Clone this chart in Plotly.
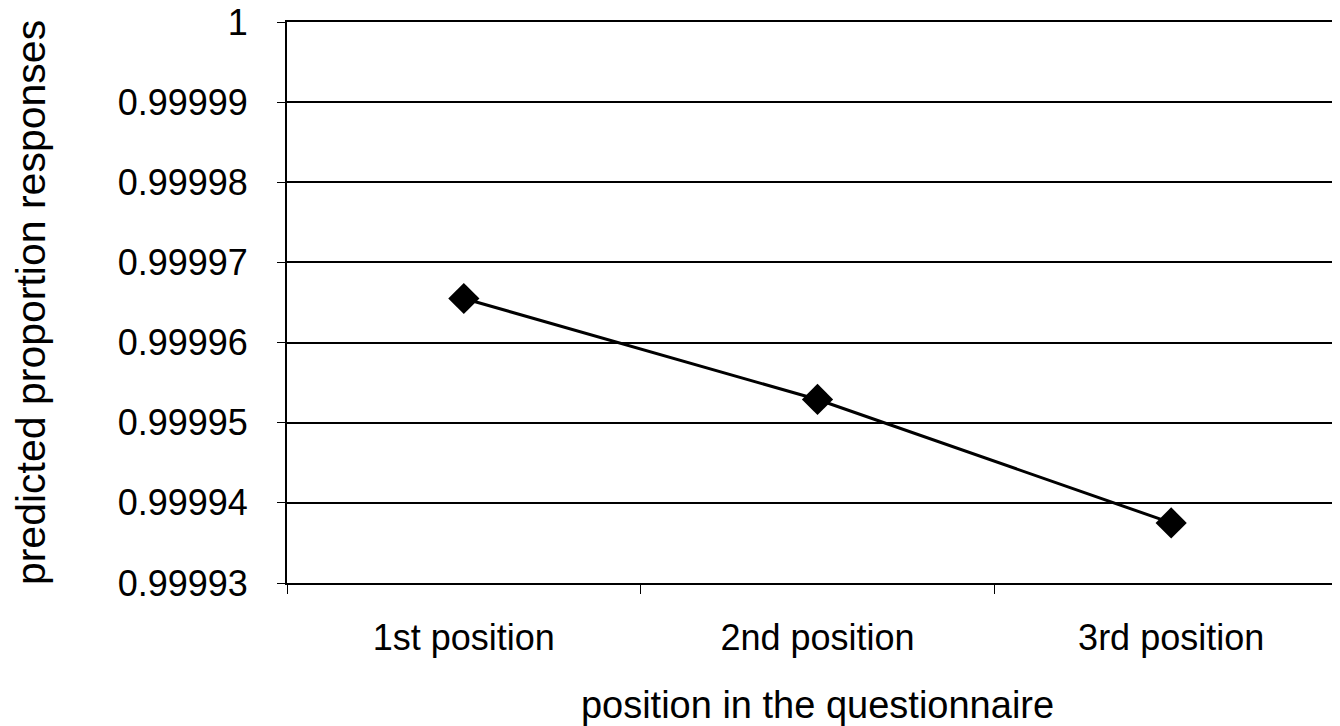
import plotly.graph_objects as go

categories = ["1st position", "2nd position", "3rd position"]
values = [0.9999655, 0.9999529, 0.9999375]
y_tick_vals = [0.99993, 0.99994, 0.99995, 0.99996, 0.99997, 0.99998, 0.99999, 1.0]
y_tick_text = ["0.99993", "0.99994", "0.99995", "0.99996", "0.99997", "0.99998", "0.99999", "1"]

FONT = "Liberation Sans, Arial, Helvetica, sans-serif"

fig = go.Figure()
fig.add_trace(go.Scatter(
    x=categories, y=values, mode="lines+markers",
    line=dict(color="black", width=3),
    marker=dict(symbol="diamond", size=24, color="black"),
    showlegend=False,
))

fig.update_layout(
    width=1340, height=726,
    margin=dict(l=279, r=0, t=14, b=151),
    paper_bgcolor="white", plot_bgcolor="white",
    font=dict(family=FONT, size=36, color="black"),
    xaxis=dict(
        type="category", range=[-0.5, 2.5], tickson="boundaries",
        showline=True, linecolor="black", linewidth=2, mirror=True,
        ticks="outside", ticklen=9, tickcolor="black", tickwidth=1,
        showgrid=False, zeroline=False,
        tickfont=dict(size=36), ticklabelstandoff=22,
        title=dict(text="position in the questionnaire", font=dict(size=38), standoff=34),
        automargin=False,
    ),
    yaxis=dict(
        range=[min(y_tick_vals), max(y_tick_vals)],
        tickvals=y_tick_vals, ticktext=y_tick_text,
        showline=True, linecolor="black", linewidth=2,
        ticks="outside", ticklen=8, tickcolor="black", tickwidth=1,
        showgrid=True, gridcolor="black", gridwidth=1.5,
        zeroline=False, ticklabeloverflow="allow",
        tickfont=dict(size=36), ticklabelstandoff=22,
        title=dict(text="predicted proportion responses", font=dict(size=41), standoff=64),
        automargin=False,
    ),
)

fig.write_html("out.html")
